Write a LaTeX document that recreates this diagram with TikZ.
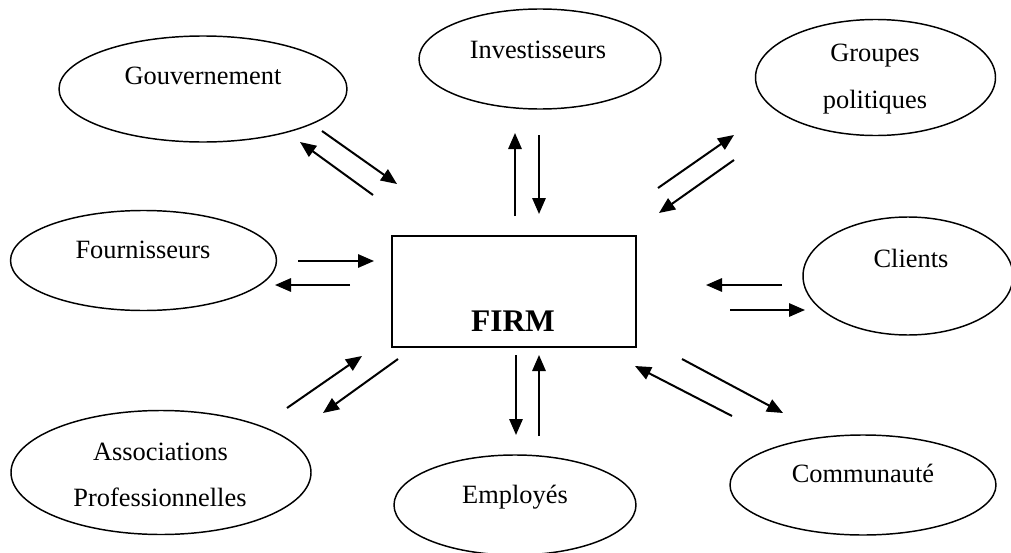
\documentclass[tikz,border=0pt]{standalone}
\usepackage{fontspec}
\setmainfont{Liberation Serif}
\usetikzlibrary{shapes.geometric,arrows.meta}
\begin{document}
\begin{tikzpicture}[x=0.75pt,y=-0.75pt,
  ell/.style={draw,ellipse,line width=1.1pt,inner sep=0pt},
  lbl/.style={anchor=base,inner sep=0pt,font=\fontsize{19.8}{24}\selectfont},
  arr/.style={line width=1.5pt,-{Triangle[length=12pt,width=10pt]}}]
\useasboundingbox (0,0) rectangle (1011,553);
% ellipses
\node[ell,minimum width=216pt,minimum height=79.5pt] (gov) at (203,89) {};
\node[ell,minimum width=181.5pt,minimum height=75pt] (inv) at (540,59) {};
\node[ell,minimum width=180pt,minimum height=87pt] (grp) at (875.5,77.5) {};
\node[ell,minimum width=199.5pt,minimum height=75pt] (fou) at (143.5,260.5) {};
\node[ell,minimum width=157.5pt,minimum height=88.5pt] (cli) at (908,276) {};
\node[ell,minimum width=225pt,minimum height=93pt] (ass) at (161,472.5) {};
\node[ell,minimum width=181.5pt,minimum height=75pt] (emp) at (515,505) {};
\node[ell,minimum width=199.5pt,minimum height=75pt] (com) at (863,485) {};
% firm box
\node[draw,rectangle,line width=0.8pt,minimum width=183pt,minimum height=83.25pt,inner sep=0pt] (firm) at (514,291.5) {};
% labels
\node[lbl] (tgov) at (203,84) {Gouvernement};
\node[lbl] (tinv) at (538,58) {Investisseurs};
\node[lbl] (tgrp1) at (875,61) {Groupes};
\node[lbl] (tgrp2) at (875,108) {politiques};
\node[lbl] (tfou) at (143,258) {Fournisseurs};
\node[lbl] (tcli) at (911,267) {Clients};
\node[lbl,font=\fontsize{23.6}{28}\selectfont\bfseries] (tfirm) at (513,331) {FIRM};
\node[lbl] (tass1) at (160.5,460) {Associations};
\node[lbl] (tass2) at (160,506) {Professionnelles};
\node[lbl] (temp) at (515,503) {Employés};
\node[lbl] (tcom) at (863,482) {Communauté};
% arrow end points
\coordinate (ga1) at (322,131); \coordinate (ga2) at (397,184);
\coordinate (gb1) at (373,195); \coordinate (gb2) at (300,142);
\coordinate (ia1) at (515,216); \coordinate (ia2) at (515,133);
\coordinate (ib1) at (539,135); \coordinate (ib2) at (539,214);
\coordinate (pa1) at (658,188); \coordinate (pa2) at (734,135);
\coordinate (pb1) at (734,160); \coordinate (pb2) at (659,213);
\coordinate (fa1) at (298,261); \coordinate (fa2) at (374,261);
\coordinate (fb1) at (350,285); \coordinate (fb2) at (275,285);
\coordinate (ca1) at (782,285); \coordinate (ca2) at (706,285);
\coordinate (cb1) at (730,310); \coordinate (cb2) at (805,310);
\coordinate (aa1) at (287,408); \coordinate (aa2) at (362,356);
\coordinate (ab1) at (398,359); \coordinate (ab2) at (323,413);
\coordinate (ea1) at (516,355); \coordinate (ea2) at (516,435);
\coordinate (eb1) at (539,436); \coordinate (eb2) at (539,355);
\coordinate (ma1) at (732,416); \coordinate (ma2) at (635,366);
\coordinate (mb1) at (682,359); \coordinate (mb2) at (783,413);
% arrows
\draw[arr] (ga1) -- (ga2);
\draw[arr] (gb1) -- (gb2);
\draw[arr] (ia1) -- (ia2);
\draw[arr] (ib1) -- (ib2);
\draw[arr] (pa1) -- (pa2);
\draw[arr] (pb1) -- (pb2);
\draw[arr] (fa1) -- (fa2);
\draw[arr] (fb1) -- (fb2);
\draw[arr] (ca1) -- (ca2);
\draw[arr] (cb1) -- (cb2);
\draw[arr] (aa1) -- (aa2);
\draw[arr] (ab1) -- (ab2);
\draw[arr] (ea1) -- (ea2);
\draw[arr] (eb1) -- (eb2);
\draw[arr] (ma1) -- (ma2);
\draw[arr] (mb1) -- (mb2);
\end{tikzpicture}
\end{document}
